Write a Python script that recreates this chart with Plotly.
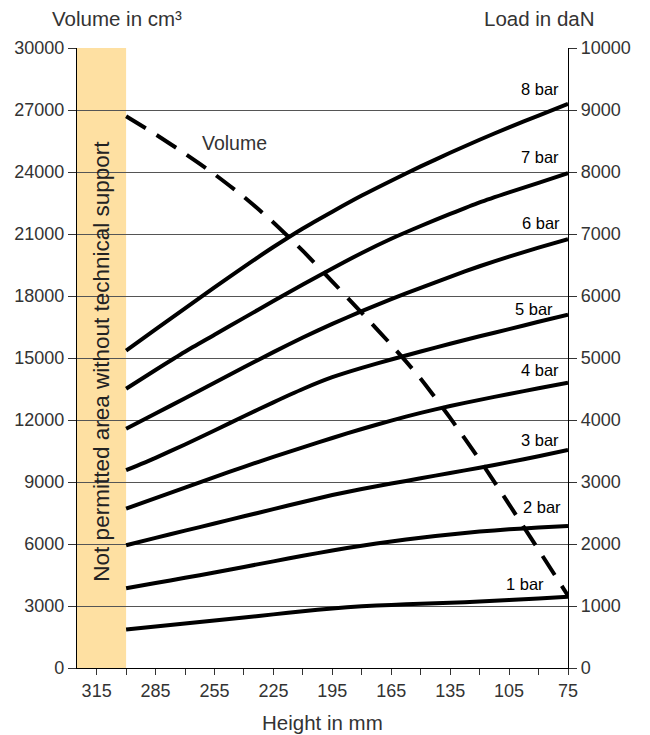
import plotly.graph_objects as go

# ---- data ----
height_mm = [300, 285, 270, 255, 240, 225, 210, 195, 180, 165, 150, 135, 120, 105, 90, 75]

volume_cm3 = [26700, 25820, 24890, 23890, 22790, 21560, 20180, 18700, 17180, 15640,
              14000, 12100, 10070, 7920, 5720, 3500]

load_1bar = [620, 668, 716, 765, 815, 865, 915, 960, 995, 1018, 1035, 1052, 1072, 1095, 1120, 1150]
load_2bar = [1285, 1370, 1455, 1540, 1630, 1720, 1810, 1895, 1972, 2042, 2102, 2155, 2200, 2237, 2265, 2290]
load_3bar = [1980, 2098, 2215, 2331, 2447, 2562, 2678, 2790, 2888, 2975, 3060, 3145, 3230, 3320, 3415, 3515]
load_4bar = [2570, 2741, 2910, 3080, 3245, 3405, 3560, 3710, 3855, 3990, 4115, 4225, 4325, 4420, 4512, 4600]
load_5bar = [3190, 3390, 3605, 3830, 4060, 4285, 4500, 4690, 4840, 4975, 5105, 5230, 5350, 5465, 5585, 5700]
load_6bar = [3860, 4105, 4350, 4600, 4850, 5095, 5330, 5550, 5755, 5950, 6130, 6310, 6480, 6635, 6780, 6915]
load_7bar = [4505, 4807, 5101, 5374, 5647, 5920, 6184, 6444, 6694, 6923, 7129, 7323, 7510, 7672, 7825, 7980]
load_8bar = [5120, 5460, 5800, 6140, 6470, 6790, 7090, 7360, 7620, 7860, 8090, 8310, 8520, 8720, 8910, 9100]

pressure_labels = ["1 bar", "2 bar", "3 bar", "4 bar", "5 bar", "6 bar", "7 bar", "8 bar"]
loads = [load_1bar, load_2bar, load_3bar, load_4bar, load_5bar, load_6bar, load_7bar, load_8bar]
# label anchor positions (right edge x in mm, y in daN)
label_x = [86, 77.5, 78.5, 78.5, 81.5, 78, 78.5, 78.5]
label_y = [1350, 2600, 3680, 4810, 5790, 7175, 8245, 9335]

x_ticks = [315, 285, 255, 225, 195, 165, 135, 105, 75]
band_range = [325, 300]

FONT = "Liberation Sans, Arial, sans-serif"
TXT = "#333333"

# page body has an 8px margin: plot area sits at x 77..568, y 48..668 in the window
W, H = 642, 727
ML, MR, MT, MB = 69, 82, 40, 67
PW, PH = 491, 620


def px(xa):
    return (xa - 77) / PW


def py(ya):
    return (668 - ya) / PH


fig = go.Figure()

for name, ld in zip(pressure_labels, loads):
    fig.add_trace(go.Scatter(x=height_mm, y=ld, mode="lines", name=name, yaxis="y2",
                             line=dict(color="black", width=4, shape="spline", smoothing=0.6),
                             showlegend=False, hoverinfo="x+y+name"))

fig.add_trace(go.Scatter(x=height_mm, y=volume_cm3, mode="lines", name="Volume", yaxis="y",
                         line=dict(color="black", width=4, dash="23px,13px", shape="spline", smoothing=0.6),
                         showlegend=False))

# forbidden band
fig.add_shape(type="rect", xref="x", yref="paper", x0=band_range[0], x1=band_range[1], y0=0, y1=1,
              fillcolor="#FEE0A2", line=dict(width=0), layer="between")

annotations = []
for name, lx, ly in zip(pressure_labels, label_x, label_y):
    annotations.append(dict(x=lx, y=ly, xref="x", yref="y2", text=name, showarrow=False,
                            xanchor="right", yanchor="middle",
                            font=dict(family=FONT, size=16.5, color="black")))

annotations += [
    dict(x=312.5, y=0.495, xref="x", yref="paper", text="Not permitted area without technical support",
         textangle=-90, showarrow=False, xanchor="center", yanchor="middle",
         font=dict(family=FONT, size=22.5, color="#222222")),
    dict(x=245, y=25400, xref="x", yref="y", text="Volume", showarrow=False,
         xanchor="center", yanchor="middle", font=dict(family=FONT, size=19.5, color=TXT)),
    dict(x=px(117), y=py(19), xref="paper", yref="paper", text="Volume in cm³",
         xanchor="center", yanchor="middle", showarrow=False, font=dict(family=FONT, size=20.5, color=TXT)),
    dict(x=px(539), y=py(19), xref="paper", yref="paper", text="Load in daN",
         xanchor="center", yanchor="middle", showarrow=False, font=dict(family=FONT, size=20.5, color=TXT)),
    dict(x=px(322), y=py(722), xref="paper", yref="paper", text="Height in mm",
         xanchor="center", yanchor="middle", showarrow=False, font=dict(family=FONT, size=20.5, color=TXT)),
]

fig.update_layout(
    width=W, height=H,
    margin=dict(l=ML, r=MR, t=MT, b=MB, autoexpand=False),
    paper_bgcolor="white", plot_bgcolor="white",
    font=dict(family=FONT, size=18, color=TXT),
    annotations=annotations,
    xaxis=dict(range=[325, 75], tickmode="array", tickvals=x_ticks,
               ticks="outside", ticklen=6, tickcolor="#333", showgrid=False, zeroline=False,
               showline=True, linecolor="black", linewidth=1.2,
               minor=dict(ticks="outside", ticklen=6, tickcolor="#333", tickmode="linear", tick0=75, dtick=15),
               tickfont=dict(family=FONT, size=18, color=TXT)),
    yaxis=dict(range=[0, 30000], tickmode="linear", tick0=0, dtick=3000, tickformat="d",
               ticks="outside", ticklen=8, tickcolor="#333", showgrid=True, gridcolor="#555555",
               gridwidth=1, zeroline=False, showline=True, linecolor="black", linewidth=1.2,
               tickfont=dict(family=FONT, size=18, color=TXT)),
    yaxis2=dict(range=[0, 10000], tickmode="linear", tick0=0, dtick=1000, tickformat="d",
                overlaying="y", side="right",
                ticks="outside", ticklen=8, tickcolor="#333", showgrid=False, zeroline=False,
                showline=True, linecolor="black", linewidth=1.2,
                tickfont=dict(family=FONT, size=18, color=TXT)),
)

fig.write_html("out.html")
